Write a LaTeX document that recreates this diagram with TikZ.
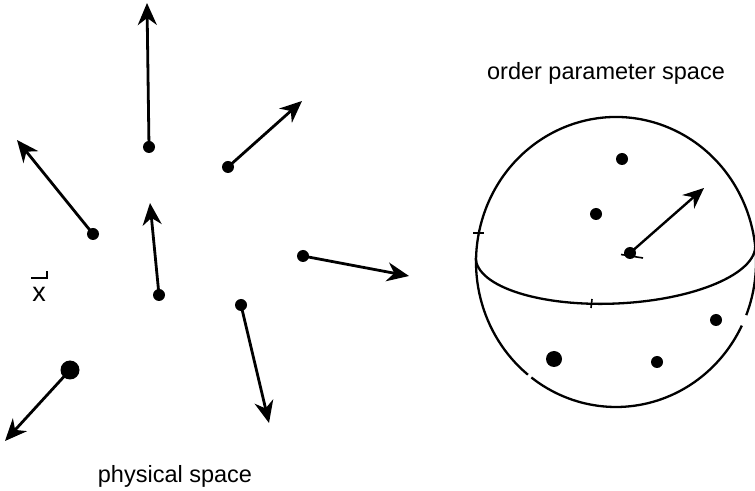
\documentclass[tikz,border=0pt]{standalone}
\usepackage{fontspec}
\setmainfont{Liberation Sans}
\usetikzlibrary{arrows.meta}
\tikzset{
  dot/.style={circle,fill=black,inner sep=0pt,minimum size=12pt},
  bigdot/.style={circle,fill=black,inner sep=0pt,minimum size=19pt},
  mdot/.style={circle,fill=black,inner sep=0pt,minimum size=16pt},
  vec/.style={line width=2.8pt,-{Stealth[length=22pt,width=19pt,inset=7pt]}},
  sph/.style={line width=2.3pt},
  lab/.style={font=\fontsize{23.5}{28}\selectfont,inner sep=0pt}
}
\begin{document}
\begin{tikzpicture}[x=1pt,y=1pt]
\useasboundingbox (0,0) rectangle (755,490);
% physical space vectors
\node[dot] (d1) at (149,343) {};
\coordinate (t1) at (147,487);
\node[dot] (d2) at (228,323) {};
\coordinate (t2) at (302,389);
\node[dot] (d3) at (93,256) {};
\coordinate (t3) at (17,350);
\node[dot] (d4) at (159,195) {};
\coordinate (t4) at (150,287);
\node[dot] (d5) at (303,234) {};
\coordinate (t5) at (409,214);
\node[dot] (d6) at (241,185) {};
\coordinate (t6) at (269,67);
\node[bigdot] (d7) at (70,120) {};
\coordinate (t7) at (5,49);
\foreach \i in {1,...,7}{\draw[vec] (d\i.center) -- (t\i);}
% x label
\node[lab,font=\fontsize{27}{30}\selectfont] (xl) at (39,196) {x};
\coordinate (h1) at (31,212);
\coordinate (h2) at (47,212);
\coordinate (h3) at (47,219);
\draw[line width=2.4pt] (h1) -- (h2) -- (h3);
\node[lab,anchor=base] (phys) at (175,8) {physical space};
\node[lab,anchor=base] (ops) at (606,410) {order parameter space};
% sphere
\coordinate (c) at (616,228);
\draw[sph] ([shift={(616,228)}]-21.5:140pt and 145pt) arc[start angle=-21.5,end angle=231,x radius=140pt,y radius=145pt];
\draw[sph] ([shift={(616,228)}]232.8:140pt and 145pt) arc[start angle=232.8,end angle=334,x radius=140pt,y radius=145pt];
\draw[sph,rotate around={2.7:(615.5,238.5)}] (475.5,238.5) arc[start angle=180,end angle=360,x radius=140pt,y radius=52pt];
% ticks
\draw[line width=1.6pt] (473,257) -- (484,257);
\draw[line width=1.6pt] (591,182) -- (592,191);
\draw[line width=1.6pt] (621,235.5) -- (643,232);
% dots on sphere
\node[dot] (s1) at (622,331) {};
\node[dot] (s2) at (596,276) {};
\node[dot] (s3) at (630,237) {};
\coordinate (st) at (704,302);
\draw[line width=2.4pt,-{Stealth[length=21pt,width=18pt,inset=7pt]}] (s3.center) -- (st);
\node[dot] (s4) at (716,170) {};
\node[mdot] (s5) at (554,131) {};
\node[dot] (s6) at (657,128) {};
\end{tikzpicture}
\end{document}
